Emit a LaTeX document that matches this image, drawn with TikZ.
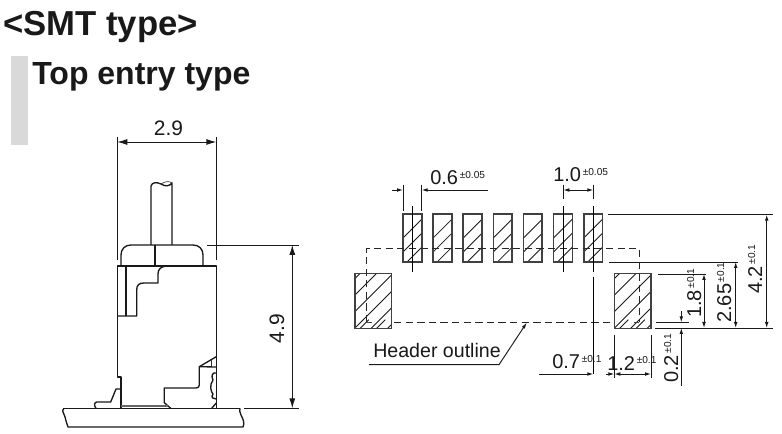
\documentclass[tikz,border=0pt]{standalone}
\usepackage{fontspec}
\setmainfont{Liberation Sans}
\usetikzlibrary{arrows.meta}
\newcommand{\bigdim}[1]{{\fontsize{15.7}{16}\selectfont #1}}
\newcommand{\tol}[2]{{\fontsize{15}{15}\selectfont #1\raisebox{0.34em}{\fontsize{7.6}{8}\selectfont\,±#2}}}
\tikzset{
  thin line/.style={line width=0.7pt,black!90},
  body/.style={line width=1pt,black!90,line join=round},
  pad/.style={line width=1.2pt,black!75},
  hatch/.style={line width=0.65pt,black!90},
  outline/.style={line width=0.7pt,black!85,dash pattern=on 5.5pt off 3.2pt},
  centerline/.style={line width=0.7pt,black},
  dimline/.style={line width=0.7pt,black!90},
  bigarrow/.style={{Latex[length=7.5pt,width=4.5pt]}-{Latex[length=7.5pt,width=4.5pt]}},
  tip/.style={-{Latex[length=4.5pt,width=2.8pt]}},
  twotip/.style={{Latex[length=4.5pt,width=2.8pt]}-{Latex[length=4.5pt,width=2.8pt]}},
  dimtext/.style={inner sep=0pt,text=black!90},
  title/.style={inner sep=0pt,font=\bfseries,text=black!90}
}
\begin{document}
\begin{tikzpicture}[x=0.75pt,y=-0.75pt]
\useasboundingbox (0,0) rectangle (782,434);
\fill[white] (0,0) rectangle (782,434);
% titles
\fill[black!15] (11,56) rectangle (28,145);
\node[title,anchor=base west] (t1) at (3,36) {\fontsize{26}{28}\selectfont <SMT type>};
\node[title,anchor=base west] (t2) at (32,85) {\fontsize{24}{26}\selectfont Top entry type};

% ---------- side view
% pin
\draw[body] (151,245) -- (151,186) .. controls (152,182) and (157,182) .. (161,184) .. controls (165,187) and (170,186) .. (172,183) -- (172,245);
\draw[line width=0.5pt,black!80] (161,184) .. controls (165,181) and (170,181) .. (172,183);
% cap
\draw[body] (121,266) -- (121,255) .. controls (121,249) and (125,245) .. (131,245) -- (193,245) .. controls (199,245) and (203,249) .. (203,255) -- (203,266);
\draw[line width=1.2pt,black!90] (155,245) -- (155,266);
% body
\draw[body] (121,408.3) -- (121,377) -- (117.3,377) -- (117.3,266) -- (216.3,266) -- (216.3,408.3);
\draw[line width=1.2pt,black!90] (126,266) -- (126,316);
\draw[body] (117.3,316) -- (136.7,316) -- (136.7,290) .. controls (136.7,285) and (139,283) .. (144,283) -- (158,283) -- (158,274) .. controls (158,269) and (161,266.5) .. (166.7,266);
% lower left clip
\draw[body] (121,389) -- (116,389) -- (110.7,402) -- (97,402) .. controls (94,402) and (94,406) .. (96,408.3);
\draw[line width=1.2pt,black!90] (121,389) -- (121,408.3);
% lower right latch
\draw[body] (216.3,356.7) -- (199.3,366.7) -- (199.3,385) .. controls (199.3,387) and (198,388) .. (196,388) -- (164.3,388) -- (164.3,402.7) -- (170.7,408.3);
\draw[body] (199.3,366.7) -- (216.3,367);
\draw[line width=0.5pt,black!80] (211.7,360) -- (211.7,367);
\draw[body] (216.3,373) .. controls (212,372) and (211,376) .. (213,380) .. controls (209,385) and (211,392) .. (213,394) .. controls (210,398) and (214,399) .. (216.3,399);
\draw[body] (211.7,408.3) -- (216.3,403);
% base
\draw[line width=0.8pt,black!60] (121,406) -- (168,406);
\draw[body] (64,408.3) -- (240,408.3);
\draw[body] (64,408.3) .. controls (61,411) and (64,413) .. (65,417) .. controls (66,421) and (67,424) .. (68,427) -- (243,427) .. controls (245,423) and (243,419) .. (241,415) .. controls (240,412) and (239,410) .. (240,408.3);
% 2.9
\coordinate (d29a) at (117.3,142);
\coordinate (d29b) at (216.3,142);
\draw[thin line] (117.3,137) -- (117.3,260);
\draw[thin line] (216.3,137) -- (216.3,260);
\draw[dimline,bigarrow] (d29a) -- (d29b);
\node[dimtext,anchor=base] (l29) at (168.5,136) {\bigdim{2.9}};
% 4.9
\coordinate (d49a) at (292.3,245);
\coordinate (d49b) at (292.3,408.3);
\draw[thin line] (207,245) -- (299,245);
\draw[thin line] (244,408.3) -- (299,408.3);
\draw[dimline,bigarrow] (d49a) -- (d49b);
\node[dimtext,rotate=90,anchor=base] (l49) at (284,328.5) {\bigdim{4.9}};

% ---------- footprint: hatching and pads
\foreach \i in {0,...,6}{
  \pgfmathsetmacro{\xa}{403+30.12*\i}
  \pgfmathsetmacro{\xb}{\xa+18.7}
  \begin{scope}
    \clip (\xa,214.3) rectangle (\xb,262);
    \foreach \k in {0,...,5}{
      \draw[hatch] (\xa+\k*14-24,262) -- ++(50,-50);
    }
  \end{scope}
  \draw[pad] (\xa,214.3) rectangle (\xb,262);
}
\foreach \xa in {354.7,614.3}{
  \begin{scope}
    \clip (\xa,273.7) rectangle (\xa+36.6,328.7);
    \foreach \k in {0,...,5}{
      \draw[hatch] (\xa+\k*16.5-50,328.7) -- ++(70,-70);
    }
    \foreach \k in {0,1,2}{
      \draw[hatch] (\xa+\k*16.5+5,328.7) -- ++(9,-9);
    }
  \end{scope}
  \draw[pad] (\xa,273.7) rectangle (\xa+36.6,328.7);
}
% header outline
\draw[outline] (366.7,322.3) -- (366.7,248.3) -- (639,248.3) -- (639,322.3);
\draw[outline] (394,322.3) -- (614,322.3);
\draw[line width=0.6pt,black!75] (366.7,322.3) -- (372,322.3);
\draw[line width=0.6pt,black!75] (639,322.3) -- (634,322.3);
% centre lines
\foreach \x in {412.3,563.3,593.3}{
  \draw[centerline] (\x,206) -- (\x,271.7);
}
\draw[centerline] (593.3,276.7) -- (593.3,374);
% 0.6
\coordinate (d06a) at (403,190);
\coordinate (d06b) at (421.7,190);
\draw[thin line] (403,184.7) -- (403,210.7);
\draw[thin line] (421.7,184.7) -- (421.7,210.7);
\draw[dimline,tip] (391.7,190) -- (d06a);
\draw[dimline,tip] (487.7,190) -- (d06b);
\node[dimtext,anchor=base west] (l06) at (430,185) {\tol{0.6}{0.05}};
% 1.0
\coordinate (d10a) at (563.3,190);
\coordinate (d10b) at (593.3,190);
\draw[thin line] (563.3,185) -- (563.3,199);
\draw[thin line] (593.3,185) -- (593.3,199);
\draw[dimline,twotip] (d10a) -- (d10b);
\node[dimtext,anchor=base west] (l10) at (553,182) {\tol{1.0}{0.05}};
% extension lines right
\draw[thin line] (608,214.7) -- (773,214.7);
\draw[thin line] (609,262) -- (738,262);
\draw[thin line] (658,274) -- (706,274);
\draw[thin line] (655,328) -- (773,328);
\draw[thin line] (656,322.3) -- (689,322.3);
% 4.2
\draw[dimline,twotip] (766.7,214.7) -- (766.7,328);
\node[dimtext,rotate=90,anchor=base west] (l42) at (762,294) {\tol{4.2}{0.1}};
% 2.65
\draw[dimline,twotip] (735.7,262) -- (735.7,328);
\node[dimtext,rotate=90,anchor=base west] (l265) at (731,323) {\tol{2.65}{0.1}};
% 1.8
\draw[dimline,twotip] (704,274) -- (704,328);
\node[dimtext,rotate=90,anchor=base west] (l18) at (701,318) {\tol{1.8}{0.1}};
% 0.2
\draw[dimline,tip] (681.3,311) -- (681.3,322.3);
\draw[dimline,tip] (681.3,386) -- (681.3,328);
\node[dimtext,rotate=90,anchor=base west] (l02) at (678,383) {\tol{0.2}{0.1}};
% 1.2 and 0.7
\draw[thin line] (614.3,335) -- (614.3,378);
\draw[thin line] (651,335) -- (651,378);
\draw[dimline,twotip] (614.3,374) -- (651,374);
\draw[dimline,tip] (539,374) -- (593.3,374);
\draw[dimline,tip] (606,374) -- (614.3,374);
\node[dimtext,anchor=base west] (l07) at (552,369) {\tol{0.7}{0.1}};
\node[dimtext,anchor=base west] (l12) at (607,370.5) {\tol{1.2}{0.1}};
% header outline leader
\coordinate (ha) at (369,364.7);
\coordinate (hb) at (499,364.7);
\coordinate (hc) at (526.7,322.7);
\draw[dimline,tip] (ha) -- (hb) -- (hc);
\node[dimtext,anchor=base west] (hl) at (373,358) {\fontsize{14.7}{15}\selectfont Header outline};
\end{tikzpicture}
\end{document}
